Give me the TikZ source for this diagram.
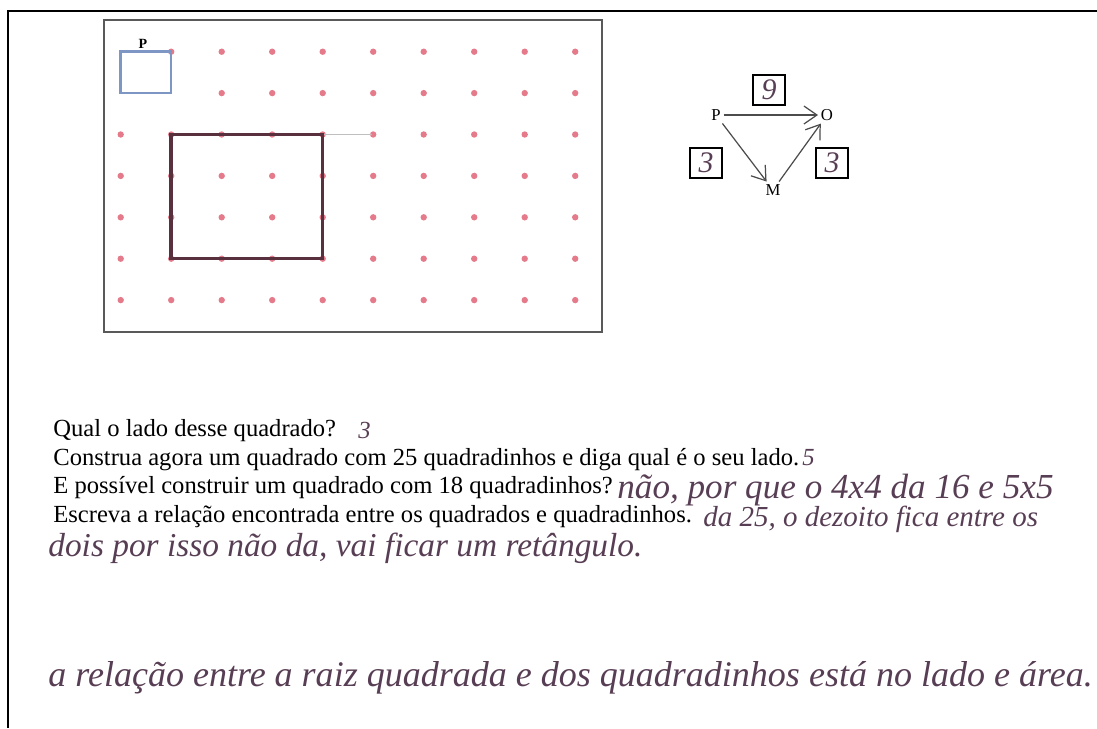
\documentclass[tikz,border=0pt]{standalone}
\usepackage{fontspec}
\setmainfont{Liberation Serif}
\usetikzlibrary{arrows.meta,positioning}
\definecolor{dotred}{RGB}{228,122,138}
\definecolor{sqblue}{RGB}{125,150,195}
\definecolor{sqdark}{RGB}{88,48,62}
\definecolor{penink}{RGB}{88,62,84}

\begin{document}
\begin{tikzpicture}[x=0.02cm,y=-0.02cm,
  printed/.style={anchor=base west,inner sep=0pt,font=\fontsize{14}{16}\selectfont},
  hand/.style={anchor=base west,inner sep=0pt,text=penink,font=\fontsize{20}{22}\selectfont\itshape},
  digit/.style={anchor=base west,inner sep=0pt,text=penink,font=\fontsize{14}{16}\selectfont\itshape},
  numbox/.style={draw,line width=0.6pt,minimum width=0.64cm,minimum height=0.6cm,inner sep=0pt,
    text=penink,font=\fontsize{17}{18}\selectfont\itshape},
  vertex/.style={inner sep=1.5pt,font=\fontsize{9.5}{10}\selectfont},
  arr/.style={-{Straight Barb[length=2.6mm,width=3.6mm]},line width=0.7pt,black!70}
]
  \useasboundingbox (0,0) rectangle (1097,728);
  % Page frame
  \draw[line width=1.2pt] (1097,11) -- (8,11) -- (8,728);
  % Dot grid
  \draw[black!65,line width=0.6pt] (104,20) rectangle (602,332);
  \foreach \c in {1,...,9} \fill[dotred] ({120.7+50.5*\c},51.7) circle (3.2);
  \foreach \c in {2,...,9} \fill[dotred] ({120.7+50.5*\c},93.1) circle (3.2);
  \foreach \r in {2,...,6}
    \foreach \c in {0,...,9} \fill[dotred] ({120.7+50.5*\c},{51.7+41.4*\r}) circle (3.2);
  \draw[black!25,line width=0.4pt] (322,134) -- (372,134);
  \draw[sqblue,line width=1.4pt] (120.7,51.7) rectangle (171.2,93.1);
  \node[font=\fontsize{8}{9}\selectfont\bfseries,inner sep=0pt] (plabel) at (143,44) {P};
  \draw[sqdark,line width=2pt] (171.2,134.5) rectangle (322.7,258.7);
  % Triangle P O M
  \node[vertex] (p) at (716,115) {P};
  \node[vertex] (o) at (827,115) {O};
  \node[vertex] (m) at (773,190) {M};
  \draw[arr] (p) -- (o);
  \draw[arr] (p) -- (m);
  \draw[arr] (m) -- (o);
  \node[numbox] (nine) at (769,90) {9};
  \node[numbox] (left3) at (706,163) {3};
  \node[numbox] (right3) at (832,163) {3};
  % Questions
  \node[printed] (q1) at (53,436) {Qual o lado desse quadrado?};
  \node[printed] (q2) at (53,465) {Construa agora um quadrado com 25 quadradinhos e diga qual é o seu lado.};
  \node[printed] (q3) at (53,493) {E possível construir um quadrado com 18 quadradinhos?};
  \node[printed] (q4) at (53,522) {Escreva a relação encontrada entre os quadrados e quadradinhos.};
  % Answers
  \node[digit] (a1) at (358,438) {3};
  \node[digit] (a2) at (802,465) {5};
  \node[hand] (a3) at (617,498) {não, por que o 4x4 da 16 e 5x5};
  \node[hand,font=\fontsize{16.5}{18}\selectfont\itshape] (a4) at (703,526) {da 25, o dezoito fica entre os};
  \node[hand,font=\fontsize{19}{21}\selectfont\itshape] (a5) at (48,556) {dois por isso não da, vai ficar um retângulo.};
  \node[hand,font=\fontsize{20.5}{22}\selectfont\itshape] (a6) at (48,686) {a relação entre a raiz quadrada e dos quadradinhos está no lado e área.};
\end{tikzpicture}
\end{document}
